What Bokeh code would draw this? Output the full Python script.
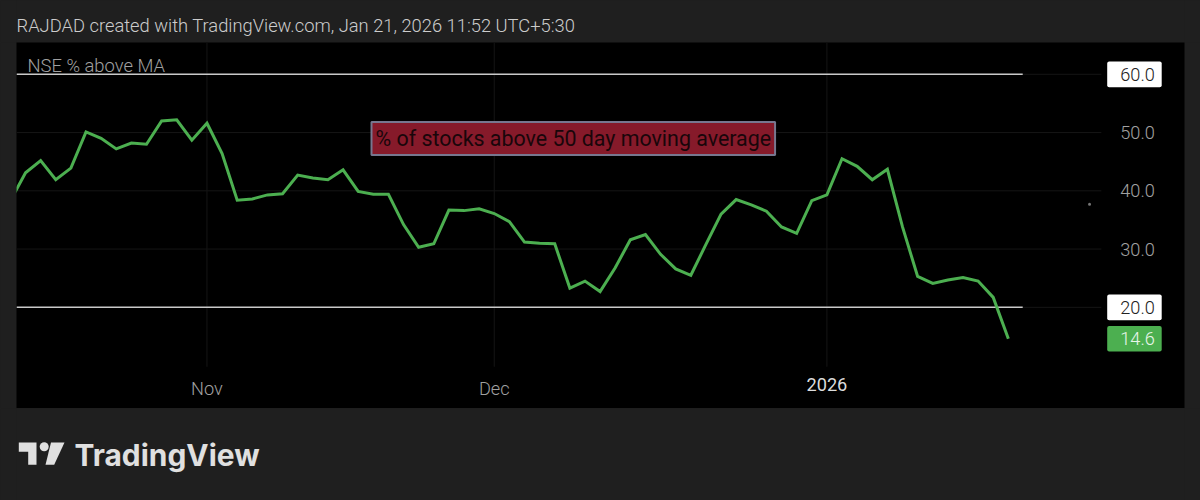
from bokeh.core.properties import value
from bokeh.embed import file_html
from bokeh.resources import INLINE
from bokeh.layouts import column
from bokeh.plotting import figure
from bokeh.models import LinearAxis, FixedTicker, Label, Range1d

# --- data ---
series_values = [38.3, 43.1, 45.2, 41.9, 43.9, 50.1, 49.0, 47.2, 48.2, 48.0, 52.0, 52.2, 48.7, 51.6,
                 46.4, 38.4, 38.6, 39.3, 39.5, 42.7, 42.2, 41.9, 43.6, 39.9, 39.4, 39.4, 34.2, 30.3,
                 30.9, 36.7, 36.6, 36.9, 36.1, 34.7, 31.2, 31.0, 30.9, 23.3, 24.5, 22.7, 26.8, 31.6,
                 32.5, 29.1, 26.6, 25.5, 30.8, 36.0, 38.5, 37.6, 36.5, 33.8, 32.7, 38.3, 39.3, 45.5,
                 44.2, 41.9, 43.7, 33.8, 25.3, 24.1, 24.7, 25.1, 24.5, 21.7, 14.6]
sessions = list(range(len(series_values)))
month_ticks = [13, 32]
month_labels = ["Nov", "Dec"]
year_tick = [54]
year_label = ["2026"]
grey_ticks = [30.0, 40.0, 50.0]
level_ticks = [20.0, 60.0]
last_value = [14.6]
stray_dot_x = [71.37]
stray_dot_y = [37.7]

TITLE = "RAJDAD created with TradingView.com, Jan 21, 2026 11:52 UTC+5:30"
SERIES_NAME = "NSE % above MA"
NOTE = "% of stocks above 50 day moving average"
BRAND = "TradingView"

BG = "#1f1f1f"
GRID = "#151515"
FONT = "Roboto"
LIGHT = "Roboto Light"
LOGO = "#e0e0e0"

X0, X1 = 0.403, 77.65
Y0, Y1 = 2.63, 65.46
LEVEL_END = 66.95
GRID_END = 72.15
GRID_BOTTOM = 9.8
AXIS_X = 73.4
BOX_X = 74.34
AXIS_Y = 7.85
FRAME_L, FRAME_B = 16, 366 + 42
TICK_SIZE = "18.2px"


def strip(height, top):
    """Header/footer band whose data coordinates are page pixels."""
    f = figure(width=1200, height=height, output_backend="svg", toolbar_location=None,
               x_range=Range1d(16, 1184), y_range=Range1d(top + height, top),
               x_axis_location=None, y_axis_location=None,
               min_border=0, min_border_left=16, min_border_right=16,
               background_fill_color=BG, border_fill_color=BG, outline_line_color=None)
    f.grid.visible = False
    return f


header = strip(42, 0)
header.text([16], [25], [TITLE], text_font=value(LIGHT), text_font_size="18.33px", text_color="#cccccc",
            text_baseline="middle")

p = figure(width=1200, height=366, output_backend="svg", toolbar_location=None,
           x_range=Range1d(X0, X1), y_range=Range1d(Y0, Y1),
           x_axis_location=None, y_axis_location=None,
           min_border_left=16, min_border_right=16, min_border_top=0, min_border_bottom=0,
           background_fill_color="#000000", border_fill_color=BG, outline_line_color=None)
p.grid.visible = False

# grid
all_y = grey_ticks + level_ticks
p.segment([X0] * len(all_y), all_y, [GRID_END] * len(all_y), all_y, line_color=GRID, line_width=1)
all_x = month_ticks + year_tick
p.segment(all_x, [GRID_BOTTOM] * len(all_x), all_x, [Y1] * len(all_x), line_color=GRID, line_width=1)

# level lines
p.segment([X0] * 2, level_ticks, [LEVEL_END] * 2, level_ticks, line_color="#c9c9c9", line_width=1.6)

# series
p.line(sessions, series_values, line_color="#4caf50", line_width=3, line_join="miter")
p.scatter(stray_dot_x, stray_dot_y, size=3, color="#777777", line_color=None)

# price boxes
p.rect([BOX_X] * 2, level_ticks, width=54.5, height=25.7, width_units="screen", height_units="screen",
       fill_color="#ffffff", line_color=None, border_radius=2)
p.rect([BOX_X], last_value, width=54.5, height=25.7, width_units="screen", height_units="screen",
       fill_color="#4caf50", line_color=None, border_radius=2)


def y_axis(ticks, color):
    ax = LinearAxis(ticker=FixedTicker(ticks=ticks), fixed_location=AXIS_X,
                    major_label_overrides={t: f"{t:.1f}" for t in ticks},
                    axis_line_color=None, major_tick_line_color=None, minor_tick_line_color=None,
                    major_tick_out=0, major_tick_in=0, major_label_standoff=0,
                    major_label_text_font=LIGHT, major_label_text_font_size=TICK_SIZE,
                    major_label_text_color=color)
    p.add_layout(ax, "right")


def x_axis(ticks, labels, color, font=LIGHT):
    ax = LinearAxis(ticker=FixedTicker(ticks=ticks), fixed_location=AXIS_Y,
                    major_label_overrides=dict(zip(ticks, labels)),
                    axis_line_color=None, major_tick_line_color=None, minor_tick_line_color=None,
                    major_tick_out=0, major_tick_in=0, major_label_standoff=0,
                    major_label_text_font=font, major_label_text_font_size=TICK_SIZE,
                    major_label_text_color=color)
    p.add_layout(ax, "below")


y_axis(grey_ticks, "#a0a0a0")
y_axis(level_ticks, "#222222")
y_axis(last_value, "#e8f5e9")
x_axis(month_ticks, month_labels, "#a0a0a0")
x_axis(year_tick, year_label, "#dcdcdc", FONT)


def put(page_x, page_y, text, **kw):
    p.add_layout(Label(x=page_x - FRAME_L, y=FRAME_B - page_y, x_units="screen", y_units="screen",
                       text=text, text_baseline="middle", **kw))


put(27, 65, SERIES_NAME, text_font=LIGHT, text_font_size="18.4px", text_color="#a0a0a0")
put(371, 138, NOTE, text_font=FONT, text_font_size="21.4px", text_color="#19060a",
    background_fill_color="#861a2a", border_line_color="#77778f", border_line_width=2, padding=4)

# footer with the logo
footer = strip(92, 408)
logo_xs = [[18.3, 36, 36, 27.7, 27.7, 18.3], [50.5, 64, 53.7, 45]]
logo_ys = [[442, 442, 464.3, 464.3, 451.3, 451.3], [442, 442, 464.3, 464.3]]
footer.patches(logo_xs, logo_ys, fill_color=LOGO, line_color=None)
footer.circle([43.7], [446.3], radius=4.5, fill_color=LOGO, line_color=None)
footer.text([74], [454.5], [BRAND], text_font=value("Inter"), text_font_size="29.9px", text_font_style="bold",
            text_color=LOGO, text_baseline="middle")

layout = column(header, p, footer, spacing=0)
html = file_html(layout, INLINE)
html = html.replace("<head>", f"<head><style>html,body{{background:{BG};}}</style>", 1)
open("out.html", "w").write(html)
